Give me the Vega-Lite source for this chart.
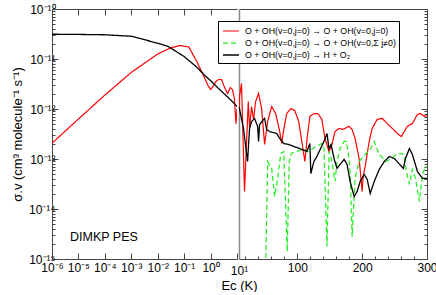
{
  "$schema": "https://vega.github.io/schema/vega-lite/v6.json",
  "padding": {"left": 11, "top": 3, "right": 0, "bottom": 0},
  "spacing": -18,
  "config": {
    "font": "Liberation Sans",
    "view": {"stroke": null},
    "axis": {"grid": false, "labelFontSize": 12, "titleFontSize": 13, "labelColor": "#000", "titleColor": "#000", "domainColor": "#444", "tickColor": "#444", "labelFont": "Liberation Sans", "titleFont": "Liberation Sans", "titleFontWeight": "normal"}
  },
  "datasets": {
    "d": [
      {"E": 1e-6, "k": 2.07e-13, "s": "a"},
      {"E": 1e-5, "k": 6.3e-13, "s": "a"},
      {"E": 1e-4, "k": 1.9e-12, "s": "a"},
      {"E": 1e-3, "k": 5.4e-12, "s": "a"},
      {"E": 0.01, "k": 1.26e-11, "s": "a"},
      {"E": 0.03, "k": 1.66e-11, "s": "a"},
      {"E": 0.07, "k": 1.86e-11, "s": "a"},
      {"E": 0.15, "k": 1.74e-11, "s": "a"},
      {"E": 0.3, "k": 8.9e-12, "s": "a"},
      {"E": 0.5, "k": 5.1e-12, "s": "a"},
      {"E": 0.8, "k": 2.95e-12, "s": "a"},
      {"E": 1.0, "k": 2.45e-12, "s": "a"},
      {"E": 1.3, "k": 2.95e-12, "s": "a"},
      {"E": 1.6, "k": 3.55e-12, "s": "a"},
      {"E": 2.0, "k": 3.89e-12, "s": "a"},
      {"E": 2.6, "k": 3.89e-12, "s": "a"},
      {"E": 3.4, "k": 2.69e-12, "s": "a"},
      {"E": 4.4, "k": 2.04e-12, "s": "a"},
      {"E": 5.6, "k": 2.69e-12, "s": "a"},
      {"E": 6.7, "k": 2.45e-12, "s": "a"},
      {"E": 8.0, "k": 1.62e-12, "s": "a"},
      {"E": 9.1, "k": 5.1e-13, "s": "a"},
      {"E": 10, "k": 1.0e-12, "s": "a"},
      {"E": 10.8, "k": 1.78e-12, "s": "a"},
      {"E": 13.9, "k": 3.24e-12, "s": "a"},
      {"E": 18.5, "k": 2.24e-14, "s": "a"},
      {"E": 24.3, "k": 1.41e-12, "s": "a"},
      {"E": 26.3, "k": 4.1e-13, "s": "a"},
      {"E": 29.4, "k": 1.12e-12, "s": "a"},
      {"E": 32.5, "k": 6.2e-13, "s": "a"},
      {"E": 35.6, "k": 1.41e-12, "s": "a"},
      {"E": 40.2, "k": 2.04e-12, "s": "a"},
      {"E": 44.9, "k": 1.02e-12, "s": "a"},
      {"E": 49.5, "k": 1.95e-13, "s": "a"},
      {"E": 54.2, "k": 5.6e-13, "s": "a"},
      {"E": 60.4, "k": 1.12e-12, "s": "a"},
      {"E": 66.6, "k": 8.1e-13, "s": "a"},
      {"E": 72.8, "k": 3.55e-13, "s": "a"},
      {"E": 75.9, "k": 2.04e-13, "s": "a"},
      {"E": 79, "k": 3.9e-13, "s": "a"},
      {"E": 83.6, "k": 8.1e-13, "s": "a"},
      {"E": 89.8, "k": 1.02e-12, "s": "a"},
      {"E": 96, "k": 9.3e-13, "s": "a"},
      {"E": 102.2, "k": 5.6e-13, "s": "a"},
      {"E": 106.9, "k": 2.24e-13, "s": "a"},
      {"E": 111.6, "k": 8.9e-14, "s": "a"},
      {"E": 115.4, "k": 2.8e-13, "s": "a"},
      {"E": 119.3, "k": 7.1e-13, "s": "a"},
      {"E": 125.5, "k": 8.1e-13, "s": "a"},
      {"E": 131.7, "k": 8.1e-13, "s": "a"},
      {"E": 137.9, "k": 6.2e-13, "s": "a"},
      {"E": 142.6, "k": 2.57e-13, "s": "a"},
      {"E": 148.8, "k": 1.41e-13, "s": "a"},
      {"E": 153.4, "k": 1.95e-13, "s": "a"},
      {"E": 158.1, "k": 3.55e-13, "s": "a"},
      {"E": 164.3, "k": 4.1e-13, "s": "a"},
      {"E": 168.9, "k": 3.9e-13, "s": "a"},
      {"E": 173.6, "k": 4.1e-13, "s": "a"},
      {"E": 179.8, "k": 4.5e-13, "s": "a"},
      {"E": 184.4, "k": 3.9e-13, "s": "a"},
      {"E": 189.1, "k": 2.57e-13, "s": "a"},
      {"E": 195.3, "k": 1.02e-13, "s": "a"},
      {"E": 200, "k": 2.24e-14, "s": "a"},
      {"E": 201.5, "k": 4.5e-14, "s": "a"},
      {"E": 204.6, "k": 7.1e-14, "s": "a"},
      {"E": 210.8, "k": 2.24e-13, "s": "a"},
      {"E": 215.4, "k": 4.1e-13, "s": "a"},
      {"E": 223.2, "k": 6.2e-13, "s": "a"},
      {"E": 230.9, "k": 6.5e-13, "s": "a"},
      {"E": 238.7, "k": 5.1e-13, "s": "a"},
      {"E": 246.4, "k": 4.1e-13, "s": "a"},
      {"E": 254.2, "k": 3.24e-13, "s": "a"},
      {"E": 260.4, "k": 2.8e-13, "s": "a"},
      {"E": 265, "k": 3.55e-13, "s": "a"},
      {"E": 269.7, "k": 4.5e-13, "s": "a"},
      {"E": 277.4, "k": 5.1e-13, "s": "a"},
      {"E": 285.2, "k": 7.8e-13, "s": "a"},
      {"E": 289.8, "k": 8.1e-13, "s": "a"},
      {"E": 296, "k": 7.1e-13, "s": "a"},
      {"E": 300, "k": 7.4e-13, "s": "a"},

      {"E": 51, "k": 5e-16, "s": "b"},
      {"E": 54.2, "k": 8.9e-14, "s": "b"},
      {"E": 60.4, "k": 6.5e-14, "s": "b"},
      {"E": 65, "k": 1.78e-14, "s": "b"},
      {"E": 69.7, "k": 4.1e-14, "s": "b"},
      {"E": 74.4, "k": 1.29e-13, "s": "b"},
      {"E": 79, "k": 1.41e-13, "s": "b"},
      {"E": 84.4, "k": 1.41e-15, "s": "b"},
      {"E": 87.5, "k": 8.9e-14, "s": "b"},
      {"E": 90.6, "k": 1.29e-13, "s": "b"},
      {"E": 98.4, "k": 1.41e-13, "s": "b"},
      {"E": 109.3, "k": 1.55e-13, "s": "b"},
      {"E": 117, "k": 1.41e-13, "s": "b"},
      {"E": 129, "k": 1.78e-13, "s": "b"},
      {"E": 137.9, "k": 2.04e-13, "s": "b"},
      {"E": 141, "k": 1.78e-13, "s": "b"},
      {"E": 145.7, "k": 1.78e-15, "s": "b"},
      {"E": 149, "k": 1.41e-13, "s": "b"},
      {"E": 153.4, "k": 8.9e-14, "s": "b"},
      {"E": 158.1, "k": 3.55e-14, "s": "b"},
      {"E": 161.2, "k": 8.9e-14, "s": "b"},
      {"E": 165.9, "k": 1.62e-13, "s": "b"},
      {"E": 172.1, "k": 2.24e-13, "s": "b"},
      {"E": 175.2, "k": 2.24e-13, "s": "b"},
      {"E": 178.3, "k": 1.41e-13, "s": "b"},
      {"E": 181.4, "k": 5.6e-14, "s": "b"},
      {"E": 184.5, "k": 2.8e-15, "s": "b"},
      {"E": 189.1, "k": 4.1e-14, "s": "b"},
      {"E": 195.3, "k": 8.9e-14, "s": "b"},
      {"E": 204.6, "k": 1.23e-13, "s": "b"},
      {"E": 212.4, "k": 1.55e-13, "s": "b"},
      {"E": 218.6, "k": 2.24e-13, "s": "b"},
      {"E": 226.4, "k": 1.23e-13, "s": "b"},
      {"E": 237.2, "k": 8.9e-14, "s": "b"},
      {"E": 244.9, "k": 1.02e-13, "s": "b"},
      {"E": 252.6, "k": 1.23e-13, "s": "b"},
      {"E": 262, "k": 1.29e-13, "s": "b"},
      {"E": 265, "k": 1.12e-13, "s": "b"},
      {"E": 268.2, "k": 5.6e-14, "s": "b"},
      {"E": 273, "k": 3.1e-14, "s": "b"},
      {"E": 277.5, "k": 6.2e-14, "s": "b"},
      {"E": 282.2, "k": 4.1e-14, "s": "b"},
      {"E": 288.3, "k": 1.41e-14, "s": "b"},
      {"E": 293, "k": 4.9e-14, "s": "b"},
      {"E": 297.7, "k": 7.1e-14, "s": "b"},
      {"E": 300, "k": 6.8e-14, "s": "b"},

      {"E": 1e-6, "k": 3.13e-11, "s": "c"},
      {"E": 1e-5, "k": 3.1e-11, "s": "c"},
      {"E": 1e-4, "k": 3.05e-11, "s": "c"},
      {"E": 1e-3, "k": 2.85e-11, "s": "c"},
      {"E": 0.01, "k": 2.07e-11, "s": "c"},
      {"E": 0.025, "k": 1.78e-11, "s": "c"},
      {"E": 0.1, "k": 1.12e-11, "s": "c"},
      {"E": 0.3, "k": 6.9e-12, "s": "c"},
      {"E": 0.6, "k": 4.7e-12, "s": "c"},
      {"E": 1.0, "k": 3.7e-12, "s": "c"},
      {"E": 2.0, "k": 2.57e-12, "s": "c"},
      {"E": 4.2, "k": 1.78e-12, "s": "c"},
      {"E": 6.7, "k": 1.41e-12, "s": "c"},
      {"E": 10, "k": 1.12e-12, "s": "c"},
      {"E": 11.6, "k": 8.9e-13, "s": "c"},
      {"E": 16.9, "k": 4.1e-13, "s": "c"},
      {"E": 23.2, "k": 8.9e-14, "s": "c"},
      {"E": 26.3, "k": 4.1e-13, "s": "c"},
      {"E": 29.4, "k": 5.6e-13, "s": "c"},
      {"E": 34, "k": 6.5e-13, "s": "c"},
      {"E": 38.7, "k": 4.5e-13, "s": "c"},
      {"E": 40.2, "k": 2.24e-13, "s": "c"},
      {"E": 41.8, "k": 4.9e-13, "s": "c"},
      {"E": 47.9, "k": 6.2e-13, "s": "c"},
      {"E": 49.5, "k": 6.5e-13, "s": "c"},
      {"E": 52.6, "k": 3.9e-13, "s": "c"},
      {"E": 57.2, "k": 3.55e-13, "s": "c"},
      {"E": 68.1, "k": 3.24e-13, "s": "c"},
      {"E": 72.8, "k": 2.57e-13, "s": "c"},
      {"E": 79, "k": 2.04e-13, "s": "c"},
      {"E": 86.7, "k": 1.95e-13, "s": "c"},
      {"E": 94.5, "k": 1.78e-13, "s": "c"},
      {"E": 103.7, "k": 1.62e-13, "s": "c"},
      {"E": 114.6, "k": 1.41e-13, "s": "c"},
      {"E": 119.3, "k": 2.04e-13, "s": "c"},
      {"E": 120.8, "k": 5.1e-14, "s": "c"},
      {"E": 125.5, "k": 8.9e-14, "s": "c"},
      {"E": 130.1, "k": 1.12e-13, "s": "c"},
      {"E": 141, "k": 2.24e-13, "s": "c"},
      {"E": 145.7, "k": 3.24e-13, "s": "c"},
      {"E": 148.8, "k": 1.62e-13, "s": "c"},
      {"E": 152, "k": 1.95e-13, "s": "c"},
      {"E": 156.6, "k": 1.02e-13, "s": "c"},
      {"E": 161.2, "k": 6.5e-14, "s": "c"},
      {"E": 165.9, "k": 7.8e-14, "s": "c"},
      {"E": 172.1, "k": 9.8e-14, "s": "c"},
      {"E": 176.7, "k": 7.8e-14, "s": "c"},
      {"E": 181.4, "k": 3.55e-14, "s": "c"},
      {"E": 187.6, "k": 1.78e-14, "s": "c"},
      {"E": 192.2, "k": 2.24e-14, "s": "c"},
      {"E": 196.9, "k": 3.55e-14, "s": "c"},
      {"E": 203.1, "k": 4.9e-14, "s": "c"},
      {"E": 207.8, "k": 3.9e-14, "s": "c"},
      {"E": 212.4, "k": 2.04e-14, "s": "c"},
      {"E": 218.6, "k": 3.55e-14, "s": "c"},
      {"E": 226.4, "k": 6.2e-14, "s": "c"},
      {"E": 234.1, "k": 8.9e-14, "s": "c"},
      {"E": 241.9, "k": 1.12e-13, "s": "c"},
      {"E": 249.6, "k": 1.02e-13, "s": "c"},
      {"E": 263.6, "k": 6.5e-14, "s": "c"},
      {"E": 266.7, "k": 1.02e-13, "s": "c"},
      {"E": 272.9, "k": 1.62e-13, "s": "c"},
      {"E": 277.5, "k": 1.23e-13, "s": "c"},
      {"E": 285.3, "k": 5.6e-14, "s": "c"},
      {"E": 293, "k": 4.1e-14, "s": "c"},
      {"E": 300, "k": 4.1e-14, "s": "c"}
    ]
  },
  "hconcat": [
    {
      "width": 185,
      "height": 250,
      "layer": [
        {
          "data": {"name": "d"},
          "transform": [{"filter": "datum.E <= 10"}],
          "mark": {"type": "line", "clip": true},
          "encoding": {
            "x": {"field": "E", "type": "quantitative",
              "scale": {"type": "log", "domain": [1e-6, 10], "nice": false},
              "axis": {"orient": "bottom", "title": null, "values": [1e-6, 1e-5, 1e-4, 1e-3, 1e-2, 1e-1, 1, 10],
                "tickSize": -6, "labelPadding": 9, "labelFlush": false,
                "labelExpr": "datum.value < 2e-6 ? '10⁻⁶' : datum.value < 2e-5 ? '10⁻⁵' : datum.value < 2e-4 ? '10⁻⁴' : datum.value < 2e-3 ? '10⁻³' : datum.value < 2e-2 ? '10⁻²' : datum.value < 0.2 ? '10⁻¹' : datum.value < 2 ? '10⁰' : ''"}},
            "y": {"field": "k", "type": "quantitative",
              "scale": {"type": "log", "domain": [1e-15, 1e-10], "nice": false},
              "axis": {"orient": "left", "title": "σ.v (cm³ molecule⁻¹ s⁻¹)", "titlePadding": 4,
                "values": [1e-15, 2e-15, 3e-15, 4e-15, 5e-15, 6e-15, 7e-15, 8e-15, 9e-15, 1e-14, 2e-14, 3e-14, 4e-14, 5e-14, 6e-14, 7e-14, 8e-14, 9e-14, 1e-13, 2e-13, 3e-13, 4e-13, 5e-13, 6e-13, 7e-13, 8e-13, 9e-13, 1e-12, 2e-12, 3e-12, 4e-12, 5e-12, 6e-12, 7e-12, 8e-12, 9e-12, 1e-11, 2e-11, 3e-11, 4e-11, 5e-11, 6e-11, 7e-11, 8e-11, 9e-11, 1e-10],
                "tickSize": {"condition": {"test": "indexof([1e-15, 1e-14, 1e-13, 1e-12, 1e-11, 1e-10], datum.value) >= 0", "value": -6}, "value": -3},
                "labelPadding": 3,
                "labelExpr": "datum.value == 1e-10 ? '10⁻¹⁰' : datum.value == 1e-11 ? '10⁻¹¹' : datum.value == 1e-12 ? '10⁻¹²' : datum.value == 1e-13 ? '10⁻¹³' : datum.value == 1e-14 ? '10⁻¹⁴' : datum.value == 1e-15 ? '10⁻¹⁵' : ''"}},
            "color": {"field": "s", "type": "nominal",
              "scale": {"domain": ["a", "b", "c"], "range": ["#ff0000", "#22ee22", "#000000"]},
              "legend": {"title": null, "orient": "none", "legendX": 166, "legendY": 12, "strokeColor": "#000", "fillColor": "#fff", "padding": 3, "labelFontSize": 8.8, "labelFont": "Liberation Sans", "labelLimit": 0, "symbolType": "M-1.33,0L1.33,0", "symbolSize": 144, "symbolOffset": 3, "labelOffset": 7, "rowPadding": 0, "cornerRadius": 0,
                "labelExpr": "datum.label == 'a' ? 'O + OH(v=0,j=0) → O + OH(v=0,j=0)' : datum.label == 'b' ? 'O + OH(v=0,j=0) → O + OH(v=0,Σ j≠0)' : 'O + OH(v=0,j=0) → H + O₂'"}},
            "strokeDash": {"field": "s", "type": "nominal", "scale": {"domain": ["a", "b", "c"], "range": [[1, 0], [5, 3], [1, 0]]}},
            "strokeWidth": {"field": "s", "type": "nominal", "scale": {"domain": ["a", "b", "c"], "range": [1.2, 1.3, 2.5]}}
          }
        },
        {
          "data": {"values": [{"E": 4.8e-6, "k": 2.7e-15, "t": "DIMKP PES"}]},
          "mark": {"type": "text", "align": "left", "baseline": "middle", "fontSize": 12.5, "font": "Liberation Sans"},
          "encoding": {
            "x": {"field": "E", "type": "quantitative",
              "axis": {"orient": "top", "title": null, "labels": false, "values": [1e-5, 1e-4, 1e-3, 1e-2, 1e-1, 1], "tickSize": -6}},
            "y": {"field": "k", "type": "quantitative"},
            "text": {"field": "t"}
          }
        }
      ],
      "resolve": {"axis": {"x": "independent"}}
    },
    {
      "width": 188,
      "height": 250,
      "layer": [
        {
          "data": {"name": "d"},
          "transform": [{"filter": "datum.E >= 10"}],
          "mark": {"type": "line", "clip": true},
          "encoding": {
            "x": {"field": "E", "type": "quantitative",
              "scale": {"domain": [10, 300], "nice": false, "zero": false},
              "axis": {"orient": "bottom", "title": "Ec (K)", "titleX": 0, "titleY": 30, "titleBaseline": "alphabetic", "titleAlign": "center",
                "values": [10, 20, 40, 60, 80, 100, 120, 140, 160, 180, 200, 220, 240, 260, 280, 300],
                "tickSize": {"condition": {"test": "datum.value == 100 || datum.value == 200 || datum.value == 300", "value": -6}, "value": -3},
                "labelPadding": 9, "labelFlush": false,
                "labelExpr": "datum.value == 10 ? '10¹' : (datum.value == 100 || datum.value == 200 || datum.value == 300) ? datum.label : ''"}},
            "y": {"field": "k", "type": "quantitative",
              "scale": {"type": "log", "domain": [1e-15, 1e-10], "nice": false},
              "axis": {"orient": "left", "title": null, "labels": false, "ticks": false, "domainColor": "#888", "domainWidth": 1.5}},
            "color": {"field": "s", "type": "nominal",
              "scale": {"domain": ["a", "b", "c"], "range": ["#ff0000", "#22ee22", "#000000"]},
              "legend": {"title": null, "orient": "none", "legendX": 166, "legendY": 12, "strokeColor": "#000", "fillColor": "#fff", "padding": 3, "labelFontSize": 8.8, "labelFont": "Liberation Sans", "labelLimit": 0, "symbolType": "M-1.33,0L1.33,0", "symbolSize": 144, "symbolOffset": 3, "labelOffset": 7, "rowPadding": 0, "cornerRadius": 0,
                "labelExpr": "datum.label == 'a' ? 'O + OH(v=0,j=0) → O + OH(v=0,j=0)' : datum.label == 'b' ? 'O + OH(v=0,j=0) → O + OH(v=0,Σ j≠0)' : 'O + OH(v=0,j=0) → H + O₂'"}},
            "strokeDash": {"field": "s", "type": "nominal", "scale": {"domain": ["a", "b", "c"], "range": [[1, 0], [5, 3], [1, 0]]}},
            "strokeWidth": {"field": "s", "type": "nominal", "scale": {"domain": ["a", "b", "c"], "range": [1.2, 1.3, 2.5]}}
          }
        },
        {
          "data": {"name": "d"},
          "transform": [{"filter": "datum.E >= 10"}],
          "mark": {"type": "point", "opacity": 0},
          "encoding": {
            "x": {"field": "E", "type": "quantitative",
              "axis": {"orient": "top", "title": null, "labels": false, "ticks": false}},
            "y": {"field": "k", "type": "quantitative",
              "axis": {"orient": "right", "title": null, "labels": false,
                "values": [1e-15, 2e-15, 3e-15, 4e-15, 5e-15, 6e-15, 7e-15, 8e-15, 9e-15, 1e-14, 2e-14, 3e-14, 4e-14, 5e-14, 6e-14, 7e-14, 8e-14, 9e-14, 1e-13, 2e-13, 3e-13, 4e-13, 5e-13, 6e-13, 7e-13, 8e-13, 9e-13, 1e-12, 2e-12, 3e-12, 4e-12, 5e-12, 6e-12, 7e-12, 8e-12, 9e-12, 1e-11, 2e-11, 3e-11, 4e-11, 5e-11, 6e-11, 7e-11, 8e-11, 9e-11, 1e-10],
                "tickSize": {"condition": {"test": "indexof([1e-15, 1e-14, 1e-13, 1e-12, 1e-11, 1e-10], datum.value) >= 0", "value": -6}, "value": -3}}}
          }
        }
      ],
      "resolve": {"axis": {"x": "independent", "y": "independent"}}
    }
  ]
}
